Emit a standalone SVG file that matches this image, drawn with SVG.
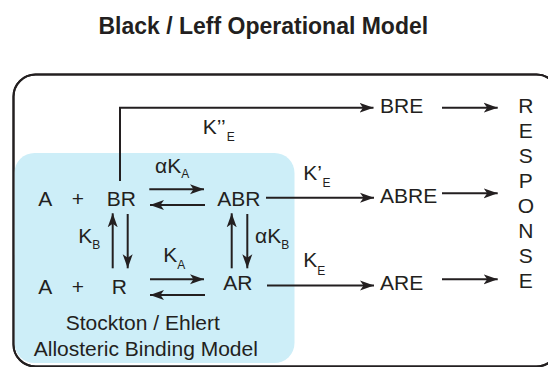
<svg xmlns="http://www.w3.org/2000/svg" width="548" height="367" viewBox="0 0 548 367">
<style>
text{font-family:"Liberation Sans",Arial,sans-serif;font-size:21px;fill:#231f20}
.t{font-weight:bold;font-size:23px}
.s{font-size:12px}
.c{stroke:#231f20;stroke-width:2;fill:none;marker-end:url(#ah)}
</style>
<defs>
<marker id="ah" markerUnits="userSpaceOnUse" markerWidth="16" markerHeight="12" viewBox="-14 -6 16 12" refX="0" refY="0" orient="auto">
<path d="M0,0 L-14,-5 L-10.5,0 L-14,5 Z" fill="#231f20"/>
</marker>
</defs>
<rect width="548" height="367" fill="#fff"/>
<g id="title"><text class="t" x="263.3" y="34" text-anchor="middle">Black / Leff Operational Model</text></g>
<g id="operational-box"><rect x="13.5" y="74.5" width="545" height="292" rx="22" fill="#fff" stroke="#231f20" stroke-width="2"/></g>
<g id="allosteric-box"><rect x="14.5" y="153" width="280" height="210" rx="20" fill="#cdeef8"/>
<text x="142.8" y="330" text-anchor="middle">Stockton / Ehlert</text>
<text x="145.8" y="356" text-anchor="middle">Allosteric Binding Model</text></g>
<g id="outer-frame"><rect x="13.5" y="74.5" width="545" height="292" rx="22" fill="none" stroke="#231f20" stroke-width="2"/></g>
<g id="connectors">
<path class="c" d="M120,181 V107.7 H373.5"/>
<path class="c" d="M442,107.7 H497.7"/>
<path class="c" d="M266,197.7 H374"/>
<path class="c" d="M442,193.3 H497.7"/>
<path class="c" d="M267,285.5 H374"/>
<path class="c" d="M442,279.3 H497.7"/>
<path class="c" d="M149.3,189.3 H204"/>
<path class="c" d="M205,205 H150"/>
<path class="c" d="M150,279.3 H204"/>
<path class="c" d="M205,295 H150"/>
<path class="c" d="M112.7,268.3 V213.3"/>
<path class="c" d="M127.7,214 V268.3"/>
<path class="c" d="M231.7,268.3 V213.3"/>
<path class="c" d="M247.3,214 V268.3"/>
</g>
<g id="labels">
<text x="155" y="172.7">αK<tspan class="s" dy="5.6">A</tspan></text>
<text x="163.3" y="262.3">K<tspan class="s" dy="6.7">A</tspan></text>
<text x="78.3" y="243.3">K<tspan class="s" dy="6">B</tspan></text>
<text x="255" y="243.3">αK<tspan class="s" dy="6">B</tspan></text>
<text x="202.7" y="134">K’’<tspan class="s" dx="1" dy="6.7">E</tspan></text>
<text x="303.3" y="180">K’<tspan class="s" dx="0.5" dy="6.7">E</tspan></text>
<text x="303.3" y="266.7">K<tspan class="s" dy="8.3">E</tspan></text>
</g>
<g id="node-A1"><text x="38.3" y="205.7">A</text></g>
<g id="node-plus1"><text x="78" y="205.7" text-anchor="middle">+</text></g>
<g id="node-BR"><text x="106.7" y="205.7">BR</text></g>
<g id="node-ABR"><text x="217.3" y="205.7">ABR</text></g>
<g id="node-A2"><text x="38.3" y="294">A</text></g>
<g id="node-plus2"><text x="78" y="294" text-anchor="middle">+</text></g>
<g id="node-R"><text x="111.7" y="294">R</text></g>
<g id="node-AR"><text x="223.3" y="290">AR</text></g>
<g id="node-BRE"><text x="380" y="112.7">BRE</text></g>
<g id="node-ABRE"><text x="380" y="202.7">ABRE</text></g>
<g id="node-ARE"><text x="380" y="290">ARE</text></g>
<g id="node-response">
<text x="525.8" y="113" text-anchor="middle">R</text>
<text x="525.8" y="138" text-anchor="middle">E</text>
<text x="525.8" y="163" text-anchor="middle">S</text>
<text x="525.8" y="188" text-anchor="middle">P</text>
<text x="525.8" y="213" text-anchor="middle">O</text>
<text x="525.8" y="238" text-anchor="middle">N</text>
<text x="525.8" y="263" text-anchor="middle">S</text>
<text x="525.8" y="288" text-anchor="middle">E</text>
</g>
</svg>
